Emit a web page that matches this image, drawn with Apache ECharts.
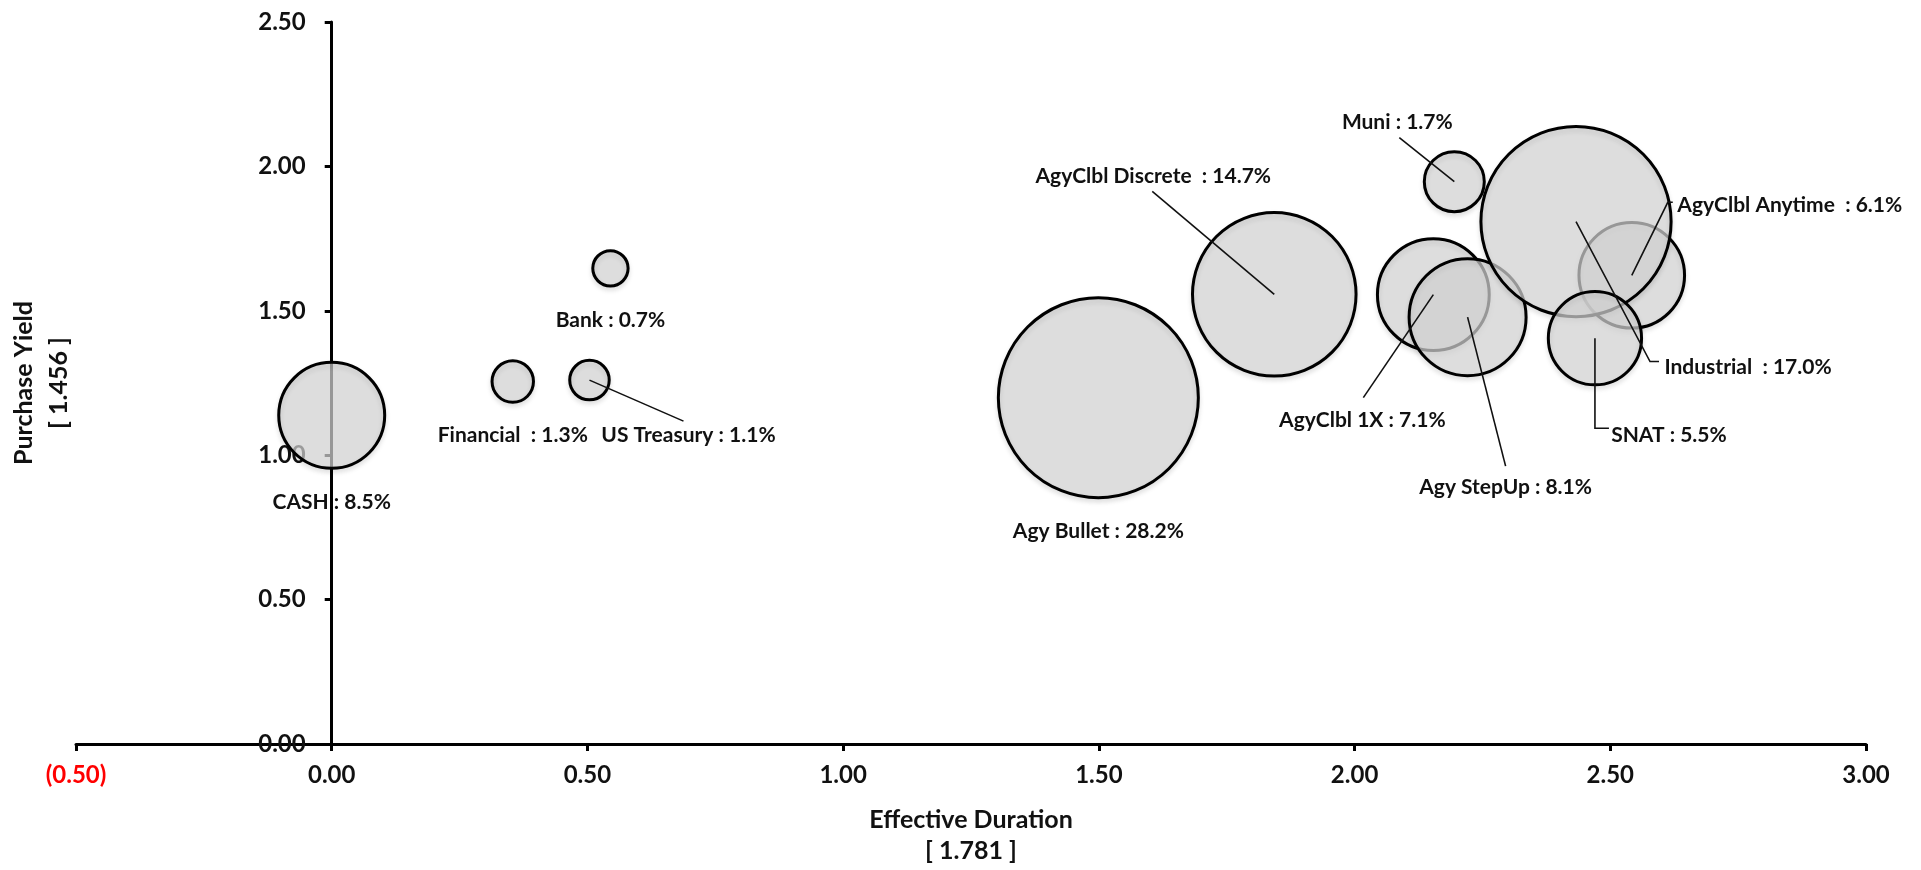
<!DOCTYPE html>
<html>
<head>
<meta charset="utf-8">
<script src="https://cdn.jsdelivr.net/npm/echarts@6/dist/echarts.min.js"></script>
<style>
html,body{margin:0;padding:0;background:#fff;}
#chart{width:1921px;height:870px;}
</style>
</head>
<body>
<div id="chart"></div>
<script>
// ---- data ----
const sectors = ['CASH', 'Financial ', 'US Treasury', 'Bank', 'Agy Bullet', 'AgyClbl Discrete ',
                 'AgyClbl 1X', 'Agy StepUp', 'AgyClbl Anytime ', 'Industrial ', 'SNAT', 'Muni'];
const weights = [8.5, 1.3, 1.1, 0.7, 28.2, 14.7, 7.1, 8.1, 6.1, 17.0, 5.5, 1.7];
const effectiveDuration = [0.000, 0.354, 0.504, 0.545, 1.499, 1.843, 2.154, 2.221, 2.542, 2.433, 2.470, 2.195];
const purchaseYield = [1.138, 1.255, 1.260, 1.647, 1.199, 1.557, 1.556, 1.478, 1.623, 1.809, 1.405, 1.947];
const bubbleSize = [28.6, 4.5, 4.1, 3.3, 101.0, 67.7, 31.8, 34.8, 28.4, 91.4, 22.2, 9.3];
const xTitle = 'Effective Duration';
const xAvg = 1.781;
const yTitle = 'Purchase Yield';
const yAvg = 1.456;

// ---- layout (label placement relative to bubble centre, in px) ----
const labelOffsets = [[0, 87], [0, 54], [99, 55], [0, 52], [0, 134], [-121, -118],
                      [-71, 126], [38, 170], [158, -70], [172, 146], [74, 97], [-57, -59]];
const leaderPaths = [null, null, [[94, 41]], null, null, [[-122, -103]],
                     [[-70, 103]], [[38, 149]], [[36, -73], [41, -73]], [[74, 140], [83, 140]],
                     [[0, 90], [14, 90]], [[-55, -44]]];

const FONT = 'Lato, "Open Sans", "DejaVu Sans", sans-serif';

function fmtTick(v) {
  const s = Math.abs(v).toFixed(2);
  return v < 0 ? '(' + s + ')' : s;
}

const bubbleData = sectors.map((n, i) => ({
  name: n,
  value: [effectiveDuration[i], purchaseYield[i], bubbleSize[i], weights[i]],
  label: { offset: labelOffsets[i] }
}));
const leaderData = sectors.map((n, i) => [effectiveDuration[i], purchaseYield[i]]);

const chart = echarts.init(document.getElementById('chart'), null, { renderer: 'canvas' });
chart.setOption({
  animation: false,
  backgroundColor: '#ffffff',
  grid: { left: 76, right: 55, top: 22, bottom: 126, containLabel: false, outerBoundsMode: 'none' },
  xAxis: {
    type: 'value', min: -0.5, max: 3, interval: 0.5,
    name: xTitle + '\n[ ' + xAvg.toFixed(3) + ' ]',
    nameLocation: 'middle', nameGap: 60,
    nameTextStyle: { fontFamily: FONT, fontWeight: 'bold', fontSize: 25, color: '#111', lineHeight: 31 },
    axisLine: { show: true, onZero: false, lineStyle: { color: '#000', width: 3 } },
    axisTick: { show: true, length: 7, lineStyle: { color: '#000', width: 3 } },
    axisLabel: {
      margin: 19, fontFamily: FONT, fontWeight: 'bold', fontSize: 24,
      formatter: fmtTick,
      color: v => (v < 0 ? '#ff0000' : '#111')
    },
    splitLine: { show: false }
  },
  yAxis: {
    type: 'value', min: 0, max: 2.5, interval: 0.5,
    name: yTitle + '\n[ ' + yAvg.toFixed(3) + ' ]',
    nameLocation: 'middle', nameGap: 255,
    nameTextStyle: { fontFamily: FONT, fontWeight: 'bold', fontSize: 25, color: '#111', lineHeight: 35 },
    axisLine: { show: true, onZero: false, lineStyle: { color: '#000', width: 3 } },
    axisTick: { show: true, length: 7, lineStyle: { color: '#000', width: 3 } },
    axisLabel: {
      margin: 26, fontFamily: FONT, fontWeight: 'bold', fontSize: 24, color: '#111',
      formatter: fmtTick
    },
    splitLine: { show: false }
  },
  series: [
    {
      type: 'scatter',
      z: 3,
      data: bubbleData,
      symbol: 'circle',
      symbolSize: v => 20 * Math.sqrt(v[2]) - 1,
      itemStyle: {
        color: 'rgba(215,215,215,0.7)',
        borderColor: '#000',
        borderWidth: 3,
        opacity: 1,
        shadowColor: 'rgba(0,0,0,0.12)',
        shadowBlur: 5,
        shadowOffsetY: 3
      },
      label: {
        show: true,
        position: 'inside',
        fontFamily: FONT, fontWeight: 'bold', fontSize: 21, color: '#111',
        formatter: p => p.name + ' : ' + p.value[3].toFixed(1) + '%'
      },
      emphasis: { disabled: true },
      silent: true
    },
    {
      type: 'custom',
      z: 4,
      silent: true,
      data: leaderData,
      renderItem: (params, api) => {
        const path = leaderPaths[params.dataIndex];
        if (!path) return null;
        const c = api.coord([api.value(0), api.value(1)]);
        const pts = [c].concat(path.map(p => [c[0] + p[0], c[1] + p[1]]));
        return {
          type: 'polyline',
          shape: { points: pts },
          style: { stroke: '#111', lineWidth: 1.6, fill: null }
        };
      }
    }
  ]
});

// place the y axis (line, ticks, labels, name) at duration = 0, through the x scale
const xZero = chart.convertToPixel({ xAxisIndex: 0 }, 0);
const xMinPx = chart.convertToPixel({ xAxisIndex: 0 }, -0.5);
chart.setOption({ yAxis: { offset: -(xZero - xMinPx) } });
</script>
</body>
</html>
